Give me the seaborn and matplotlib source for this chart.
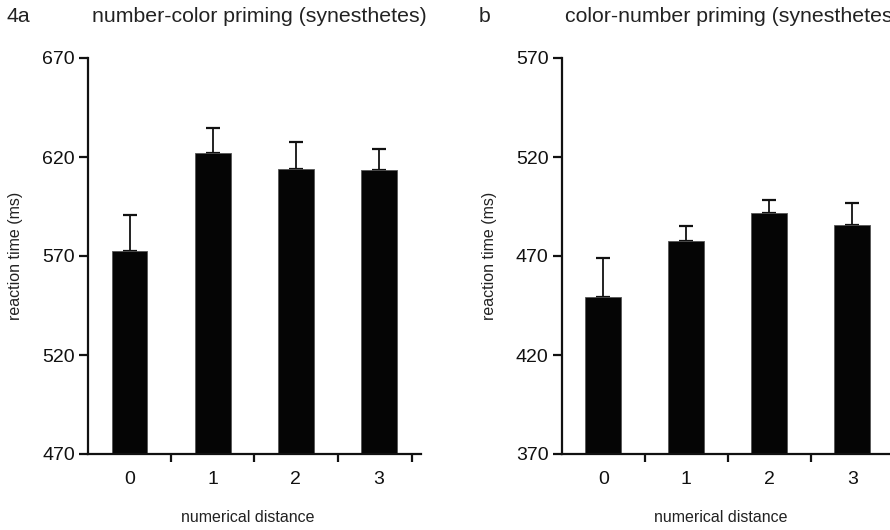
import numpy as np
import pandas as pd
import matplotlib
matplotlib.use("Agg")
import matplotlib.pyplot as plt
import seaborn as sns

sns.set_theme(style="ticks")
plt.rcParams["font.family"] = ["Liberation Sans", "DejaVu Sans"]

# numerical distance categories
distances = ["0", "1", "2", "3"]

# panel a: number-color priming (synesthetes)
rt_number_color = [572.7, 622.2, 614.1, 613.6]
sem_number_color = [17.9, 12.4, 13.3, 10.3]

# panel b: color-number priming (synesthetes)
rt_color_number = [449.1, 477.7, 491.7, 485.8]
sem_color_number = [19.7, 7.3, 6.4, 11.1]

W, H = 890, 530
fig = plt.figure(figsize=(W / 100, H / 100), dpi=100)


def px_axes(x0, x1, ytop, ybot):
    return fig.add_axes([x0 / W, 1 - ybot / H, (x1 - x0) / W, (ybot - ytop) / H])


def draw_panel(ax, means, errs, yticks, last_tick=True):
    df = pd.DataFrame({"distance": distances, "rt": means})
    sns.barplot(data=df, x="distance", y="rt", ax=ax, color="#050505",
                errorbar=None, width=0.43, edgecolor="#555555", linewidth=0.6,
                saturation=1, zorder=2)
    # upward-only error bars, tucked behind the bars
    ax.errorbar(np.arange(len(means)), means,
                yerr=[np.zeros(len(errs)), errs], fmt="none",
                ecolor="#111111", elinewidth=1.3, capsize=5, capthick=1.6,
                zorder=1)
    ax.set_ylim(yticks[0], yticks[-1])
    ax.set_xlim(-0.5, 3.5)
    ax.set_yticks(yticks)
    ax.set_yticklabels([str(v) for v in yticks])
    ax.set_xticks([0.5, 1.5, 2.5] + ([3.4] if last_tick else []), minor=False)
    ax.set_xticks([0, 1, 2, 3], minor=True)
    ax.set_xticklabels([""] * (4 if last_tick else 3))
    ax.set_xticklabels(distances, minor=True)
    ax.tick_params(axis="x", which="minor", length=0, pad=12, labelsize=14,
                   colors="#111111")
    ax.tick_params(axis="x", which="major", length=6, width=1.6,
                   direction="out", color="#111111")
    ax.tick_params(axis="y", length=6.5, width=1.6, direction="out",
                   pad=3, labelsize=14, colors="#111111")
    for side in ("top", "right"):
        ax.spines[side].set_visible(False)
    for side in ("left", "bottom"):
        ax.spines[side].set_linewidth(1.6)
        ax.spines[side].set_color("#111111")
    ax.set_xlabel("numerical distance", fontsize=11.5, color="#222222")
    ax.set_ylabel("reaction time (ms)", fontsize=11.5, color="#222222")
    ax.xaxis.set_label_coords(0.48, -0.142)
    ax.yaxis.set_label_coords(-0.194, 0.5)
    ax.set_facecolor("white")


ax_a = px_axes(88, 420.7, 58, 454)
draw_panel(ax_a, rt_number_color, sem_number_color, [470, 520, 570, 620, 670])

ax_b = px_axes(561.7, 893.7, 58, 454)
draw_panel(ax_b, rt_color_number, sem_color_number, [370, 420, 470, 520, 570],
           last_tick=False)

title_kw = dict(fontsize=15.3, color="#222222", va="center", ha="left")
fig.text(6.5 / W, 1 - 17 / H, "4a", **title_kw)
fig.text(91.5 / W, 1 - 17 / H, "number-color priming (synesthetes)", **title_kw)
fig.text(479 / W, 1 - 17 / H, "b", **title_kw)
fig.text(565 / W, 1 - 17 / H, "color-number priming (synesthetes)", **title_kw)

fig.patch.set_facecolor("white")
fig.savefig("out.png", dpi=100)
